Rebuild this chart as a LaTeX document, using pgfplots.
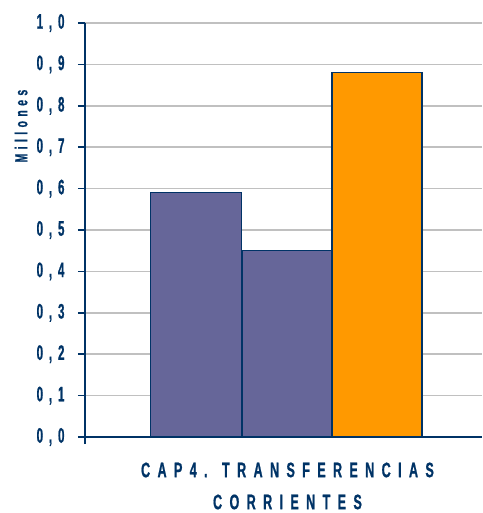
\documentclass[border=0pt]{standalone}
\usepackage{fontspec}
\setmainfont{Liberation Sans Bold}[FakeStretch=0.6, LetterSpace=35, FakeBold=0.8]
\newfontfamily\tickfont{Liberation Sans Bold}[FakeStretch=0.55, LetterSpace=28, FakeBold=0.8]
\newfontfamily\ylabfont{Liberation Sans Bold}[FakeStretch=0.6, LetterSpace=25, FakeBold=0.8]
\usepackage{pgfplots}
\pgfplotsset{compat=1.18}
\definecolor{navy}{HTML}{003366}
\definecolor{barblue}{HTML}{666699}
\definecolor{barorange}{HTML}{FF9900}
\definecolor{gridgray}{HTML}{C0C0C0}
\begin{document}
\begin{tikzpicture}[x=1pt,y=1pt]
\useasboundingbox (-85,-76) rectangle (397,437);
\begin{axis}[
  at={(0,0)}, anchor=origin,
  scale only axis, width=397pt, height=414pt,
  xmin=0, xmax=397, ymin=0, ymax=1,
  axis lines*=left,
  axis line style={navy, line width=1.8pt},
  ymajorgrids, grid style={gridgray, line width=1.6pt},
  ytick={0,0.1,0.2,0.3,0.4,0.5,0.6,0.7,0.8,0.9,1.0},
  xtick={0}, xticklabels={},
  tick align=outside, major tick length=7pt,
  tick style={navy, line width=1.5pt},
  yticklabel style={font=\tickfont\fontsize{21}{21}\selectfont, text=navy, xshift=-10pt},
  /pgf/number format/assume math mode=true,
  yticklabel={\pgfmathprintnumber[fixed, fixed zerofill, precision=1, use comma]{\tick}},
  xlabel={CAP4. TRANSFERENCIAS\\CORRIENTES},
  xlabel style={font=\fontsize{21}{32}\selectfont, text=navy, align=center, at={(axis description cs:0.51,0)}, anchor=north, yshift=-22pt},
  ylabel={Millones},
  ylabel style={font=\ylabfont\fontsize{17.5}{17.5}\selectfont, text=navy, at={(axis description cs:-0.161,0.751)}, anchor=center},
  clip=false,
]
\addplot[ybar, bar shift=0pt, bar width=91, fill=barblue, draw=navy, line width=1.5pt] coordinates {(111,0.59)};
\addplot[ybar, bar shift=0pt, bar width=90, fill=barblue, draw=navy, line width=1.5pt] coordinates {(202,0.45)};
\addplot[ybar, bar shift=0pt, bar width=90, fill=barorange, draw=navy, line width=1.5pt] coordinates {(292,0.88)};
\end{axis}
\end{tikzpicture}
\end{document}
